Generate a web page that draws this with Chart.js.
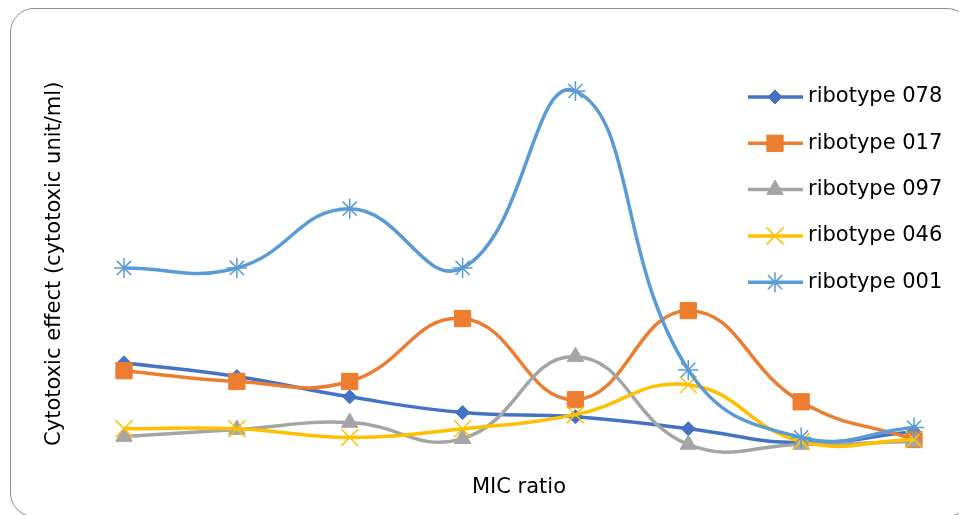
<!DOCTYPE html>
<html>
<head>
<meta charset="utf-8">
<script src="https://cdn.jsdelivr.net/npm/chart.js@4.4.0/dist/chart.umd.min.js"></script>
<style>
    html, body { margin: 0; padding: 0; background: #fff; overflow: hidden; }
    #wrap { position: relative; width: 959px; height: 515px; overflow: hidden; }
    #frame { position: absolute; left: 10px; top: 8px; width: 961px; height: 509px;
             border: 1px solid #8e8e8e; border-radius: 24px; box-sizing: border-box; }
    canvas { position: absolute; left: 0; top: 0; }
</style>
</head>
<body>
<div id="wrap">
    <div id="frame"></div>
    <canvas id="cytoChart" width="959" height="515"></canvas>
</div>
<script>
// ------------------ DONNEES ------------------
const micLabels = ['1', '2', '3', '4', '5', '6', '7', '8'];
const ribotype078 = [26.1, 22.8, 17.9, 14.1, 13.1, 10.2, 6.8, 9.5];
const ribotype017 = [24.2, 21.6, 21.6, 36.8, 17.2, 38.7, 16.7, 7.6];
const ribotype097 = [8.3, 10.0, 11.7, 7.8, 27.6, 6.4, 6.4, 7.1];
const ribotype046 = [10.2, 10.2, 8.1, 10.2, 13.6, 20.8, 7.1, 7.6];
const ribotype001 = [49.0, 49.0, 63.3, 49.0, 91.7, 24.4, 8.1, 10.5];

Chart.defaults.font.family = '"DejaVu Sans", sans-serif';
Chart.defaults.color = '#000';

// Construction d'une serie facon Excel (ligne lissee + marqueur)
function serie(label, data, color, style, radius, pointBorder, order) {
    return {
        label: label,
        data: data,
        borderColor: color,
        backgroundColor: color,
        borderWidth: 3.5,
        tension: 0.45,
        fill: false,
        pointStyle: style,
        pointRadius: radius,
        pointBorderWidth: pointBorder,
        pointBackgroundColor: color,
        pointBorderColor: color,
        order: order
    };
}

// Legende dessinee a la main : trait + marqueur + texte
const lineLegend = {
    id: 'lineLegend',
    afterDraw(chart) {
        const ctx = chart.ctx;
        ctx.save();
        ctx.font = '21px "DejaVu Sans"';
        ctx.textBaseline = 'middle';
        chart.data.datasets.forEach((ds, i) => {
            const y = 97 + i * 46.3;
            ctx.strokeStyle = ds.borderColor;
            ctx.lineWidth = 3.5;
            ctx.beginPath();
            ctx.moveTo(748, y);
            ctx.lineTo(803, y);
            ctx.stroke();
            ctx.fillStyle = ds.borderColor;
            ctx.lineWidth = ds.pointBorderWidth;
            Chart.helpers.drawPoint(ctx, {
                pointStyle: ds.pointStyle,
                radius: ds.pointRadius,
                rotation: 0,
                borderWidth: ds.pointBorderWidth
            }, 775, y);
            ctx.fillStyle = '#000';
            ctx.fillText(ds.label, 808, y);
        });
        ctx.restore();
    }
};

const ctx = document.getElementById('cytoChart').getContext('2d');
new Chart(ctx, {
    type: 'line',
    data: {
        labels: micLabels,
        datasets: [
            serie('ribotype 078', ribotype078, '#4472C4', 'rectRot', 7, 1, 5),
            serie('ribotype 017', ribotype017, '#ED7D31', 'rect', 11.5, 1, 4),
            serie('ribotype 097', ribotype097, '#A5A5A5', 'triangle', 9.5, 1, 3),
            serie('ribotype 046', ribotype046, '#FFC000', 'crossRot', 12, 1.5, 2),
            serie('ribotype 001', ribotype001, '#5B9BD5', 'star', 10, 1.5, 1)
        ]
    },
    options: {
        responsive: false,
        animation: false,
        layout: { padding: { left: 38.4, right: 45, top: 56.6, bottom: 10.4 } },
        plugins: {
            legend: { display: false },
            tooltip: { enabled: false }
        },
        scales: {
            x: {
                offset: false,
                grid: { display: false },
                border: { display: false },
                ticks: { display: false },
                title: { display: true, text: 'MIC ratio', font: { size: 21 }, color: '#000' },
                afterFit: (scale) => { scale.height = 33.6; }
            },
            y: {
                min: 0,
                max: 100,
                grid: { display: false },
                border: { display: false },
                ticks: { display: false },
                title: { display: true, text: 'Cytotoxic effect (cytotoxic unit/ml)', font: { size: 21 }, color: '#000' },
                afterFit: (scale) => { scale.width = 85.6; }
            }
        }
    },
    plugins: [lineLegend]
});
</script>
</body>
</html>
